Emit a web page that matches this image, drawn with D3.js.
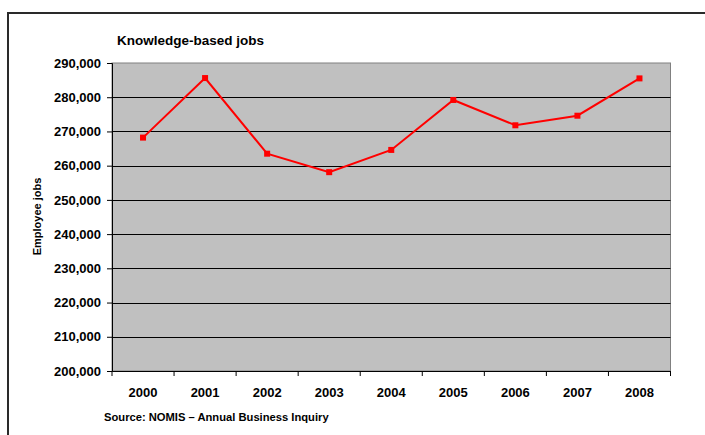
<!DOCTYPE html>
<html>
<head>
<meta charset="utf-8">
<script src="https://cdn.jsdelivr.net/npm/d3@7"></script>
<style>
  html, body { margin: 0; padding: 0; background: #fff; }
  svg { display: block; font-family: "Liberation Sans", Arial, sans-serif; }
</style>
</head>
<body>
<svg id="chart" width="705" height="435"></svg>
<script>
const years = ["2000", "2001", "2002", "2003", "2004", "2005", "2006", "2007", "2008"];
const jobs = [268200, 285600, 263500, 258100, 264600, 279200, 271800, 274600, 285500];
const yTicks = [200000, 210000, 220000, 230000, 240000, 250000, 260000, 270000, 280000, 290000];
const title = "Knowledge-based jobs";
const yTitle = "Employee jobs";
const source = "Source: NOMIS \u2013 Annual Business Inquiry";

const svg = d3.select("#chart");
const m = { left: 112, top: 63, right: 670.5, bottom: 371 };

// outer frame (left + top)
svg.append("path")
  .attr("d", `M8,435 L8,13 L705,13`)
  .attr("fill", "none").attr("stroke", "#2a2a2a").attr("stroke-width", 2);

const x = d3.scaleBand().domain(years).range([m.left, m.right]).padding(0);
const y = d3.scaleLinear().domain([200000, 290000]).range([m.bottom, m.top]);

// plot area
svg.append("rect")
  .attr("x", m.left).attr("y", m.top)
  .attr("width", m.right - m.left).attr("height", m.bottom - m.top)
  .attr("fill", "#c0c0c0").attr("stroke", "#808080").attr("stroke-width", 1);

// gridlines
svg.append("g").selectAll("line").data(yTicks.filter(d => d > 200000 && d < 290000)).join("line")
  .attr("x1", m.left).attr("x2", m.right)
  .attr("y1", d => Math.round(y(d)) + 0.5).attr("y2", d => Math.round(y(d)) + 0.5)
  .attr("stroke", "#000").attr("stroke-width", 1);

// y axis
const yAxis = d3.axisLeft(y).tickValues(yTicks).tickSize(5).tickPadding(6)
  .tickFormat(d3.format(","));
const gy = svg.append("g").attr("transform", `translate(${m.left},0)`).call(yAxis);
gy.select(".domain").attr("stroke", "#000");
gy.selectAll(".tick line").attr("stroke", "#000");
gy.selectAll("text").attr("font-size", 13).attr("font-weight", "bold")
  .attr("fill", "#000").attr("font-family", "Liberation Sans, Arial, sans-serif");

// x axis
const xAxis = d3.axisBottom(x).tickSize(0).tickPadding(17);
const gx = svg.append("g").attr("transform", `translate(0,${m.bottom})`).call(xAxis);
gx.select(".domain").attr("stroke", "#000");
gx.selectAll("text").attr("font-size", 13).attr("font-weight", "bold")
  .attr("fill", "#000").attr("font-family", "Liberation Sans, Arial, sans-serif");
// category boundary ticks
const bounds = years.map(d => x(d)).concat([x(years[years.length - 1]) + x.bandwidth()]);
svg.append("g").selectAll("line").data(bounds).join("line")
  .attr("x1", d => d).attr("x2", d => d)
  .attr("y1", m.bottom).attr("y2", m.bottom + 5)
  .attr("stroke", "#000");

// line
const line = d3.line().x((d, i) => x(years[i]) + x.bandwidth() / 2).y(d => y(d));
svg.append("path").datum(jobs).attr("d", line)
  .attr("fill", "none").attr("stroke", "#ff0000").attr("stroke-width", 2);
svg.append("g").selectAll("rect").data(jobs).join("rect")
  .attr("x", (d, i) => x(years[i]) + x.bandwidth() / 2 - 3)
  .attr("y", d => y(d) - 3)
  .attr("width", 6).attr("height", 6)
  .attr("fill", "#ff0000");

// title
svg.append("text").attr("x", 117).attr("y", 45)
  .attr("font-size", 13.5).attr("font-weight", "bold").text(title);

// y title
svg.append("text")
  .attr("transform", `translate(41,216.5) rotate(-90)`)
  .attr("text-anchor", "middle")
  .attr("font-size", 11).attr("font-weight", "bold").text(yTitle);

// source
svg.append("text").attr("x", 104).attr("y", 421)
  .attr("font-size", 11.2).attr("font-weight", "bold").text(source);
</script>
</body>
</html>
